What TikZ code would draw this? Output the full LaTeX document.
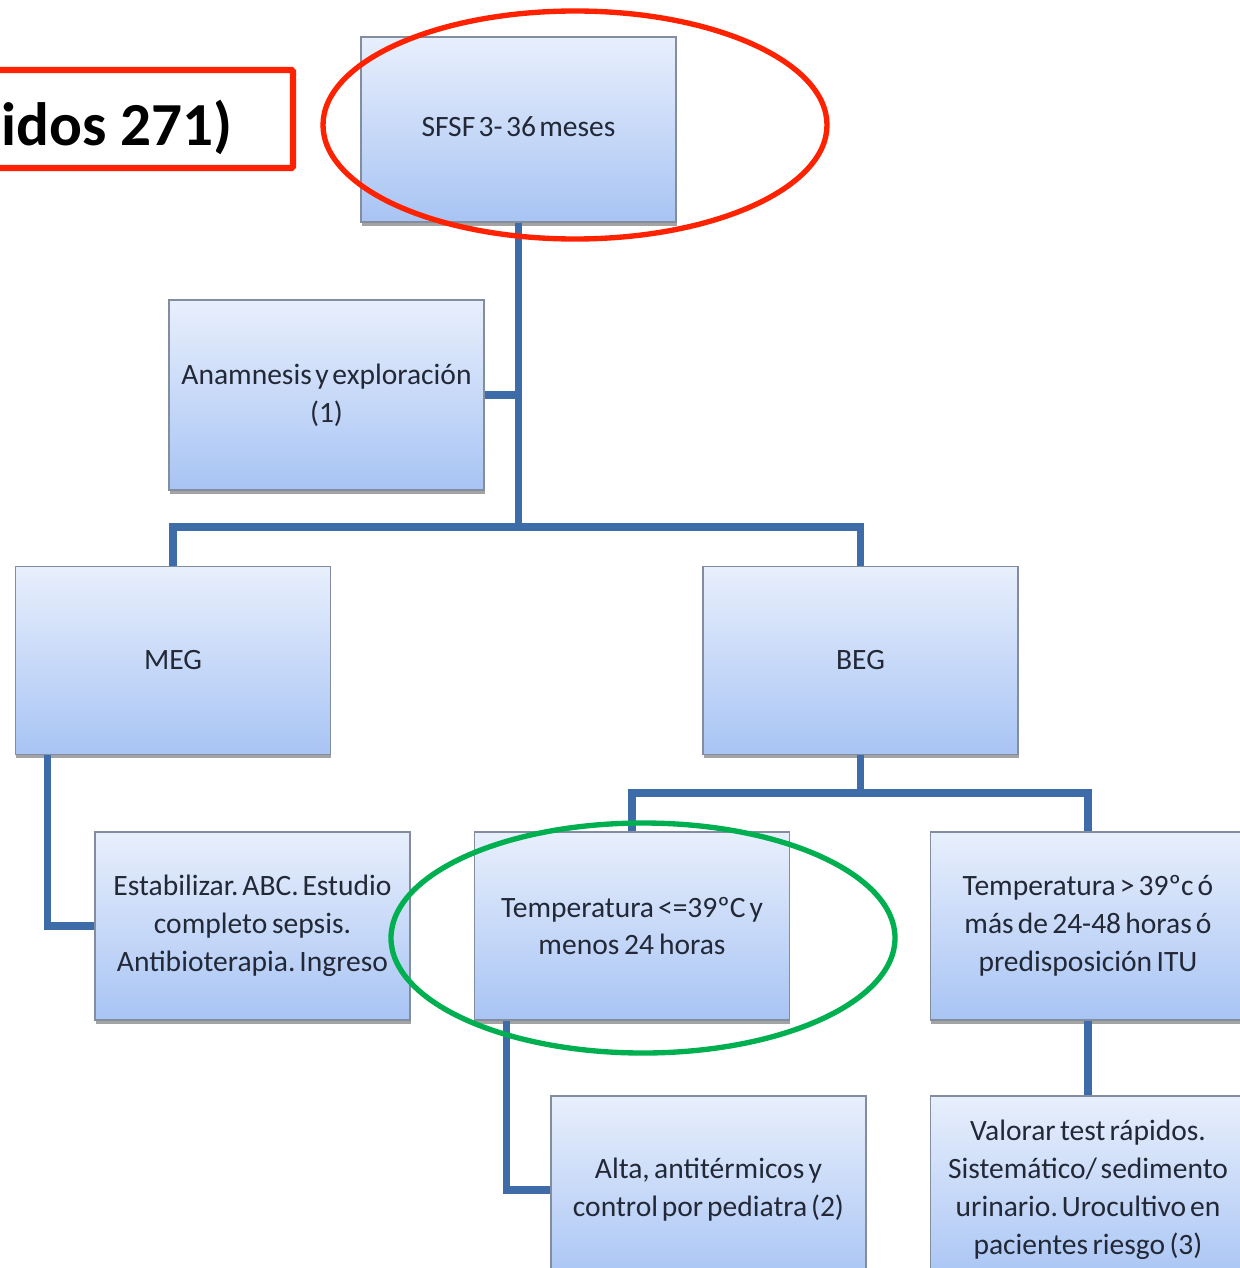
\documentclass[tikz,border=0pt]{standalone}
\usepackage{fontspec}
\setmainfont{Carlito}
\usetikzlibrary{shadows}
\definecolor{conncol}{RGB}{62,108,168}
\definecolor{boxtop}{RGB}{232,239,252}
\definecolor{boxbot}{RGB}{168,196,244}
\definecolor{boxline}{RGB}{130,142,160}
\definecolor{boxtext}{RGB}{34,40,54}
\definecolor{annred}{RGB}{255,34,0}
\definecolor{anngreen}{RGB}{0,176,80}
\tikzset{
  flowbox/.style={draw=boxline, line width=1.2pt, top color=boxtop, bottom color=boxbot,
    minimum width=7.875cm, minimum height=4.7cm, text width=7.8cm, align=center,
    inner sep=0pt, text=boxtext, font=\fontsize{21}{27}\selectfont,
    execute at begin node={\frenchspacing\spaceskip=2.4pt plus 1pt minus 0.5pt\xspaceskip=2.4pt\relax},
    drop shadow={shadow xshift=0.5pt, shadow yshift=-2.5pt, fill=black!45, opacity=0.8}},
  conn/.style={draw=conncol, line width=5.5pt},
  annot/.style={line width=3.8pt}
}
\begin{document}
\begin{tikzpicture}[x=0.025cm, y=-0.025cm]
\useasboundingbox (0,0) rectangle (1240,1268);
\clip (0,0) rectangle (1240,1268);
\fill[white] (0,0) rectangle (1240,1268);

\coordinate (j1) at (515,527);
\coordinate (j2) at (860,793);

% boxes
\node[flowbox, minimum height=4.625cm] (sfsf) at (518.5,129.5) {\raisebox{4pt}{SFSF 3- 36 meses}};
\node[flowbox, minimum height=4.75cm] (anam) at (326.5,395) {Anamnesis y exploración\\(1)};
\node[flowbox] (meg) at (173,660.5) {MEG};
\node[flowbox] (beg) at (860.5,660.5) {BEG};
\node[flowbox] (estab) at (252.5,926) {Estabilizar. ABC. Estudio\\completo sepsis.\\Antibioterapia. Ingreso};
\node[flowbox] (tle) at (632,926) {Temperatura <=39ºC y\\menos 24 horas};
\node[flowbox] (tgt) at (1088,926) {Temperatura > 39ºc ó\\más de 24-48 horas ó\\predisposición ITU};
\node[flowbox] (alta) at (708.5,1190) {Alta, antitérmicos y\\control por pediatra (2)};
\node[flowbox] (val) at (1088,1190) {Valorar test rápidos.\\Sistemático/ sedimento\\urinario. Urocultivo en\\pacientes riesgo (3)};

% connectors
\draw[conn] (sfsf.south) -- (sfsf.south |- j1);
\draw[conn] (anam.east) -- (anam.east -| sfsf.south);
\draw[conn] (meg.north) -- (meg.north |- j1) -- (beg.north |- j1) -- (beg.north);
\draw[conn] (beg.south) -- (beg.south |- j2);
\draw[conn] (tle.north) -- (tle.north |- j2) -- (tgt.north |- j2) -- (tgt.north);
\draw[conn] ([xshift=0.825cm]meg.south west) |- (estab.west);
\draw[conn] ([xshift=0.825cm]tle.south west) |- (alta.west);
\draw[conn] (tgt.south) -- (val.north);

% annotations
\draw[annred, line width=4.3pt, rounded corners=1pt] (-20,70) rectangle (293,168);
\node[anchor=base west, inner sep=0pt, font=\bfseries\fontsize{43.5}{52}\selectfont] (lbl) at (1,145) {idos 271)};
\draw[annred, annot] (575,125) ellipse [x radius=252, y radius=114];
\draw[anngreen, annot] (643,938) ellipse [x radius=252, y radius=115];
\end{tikzpicture}
\end{document}
